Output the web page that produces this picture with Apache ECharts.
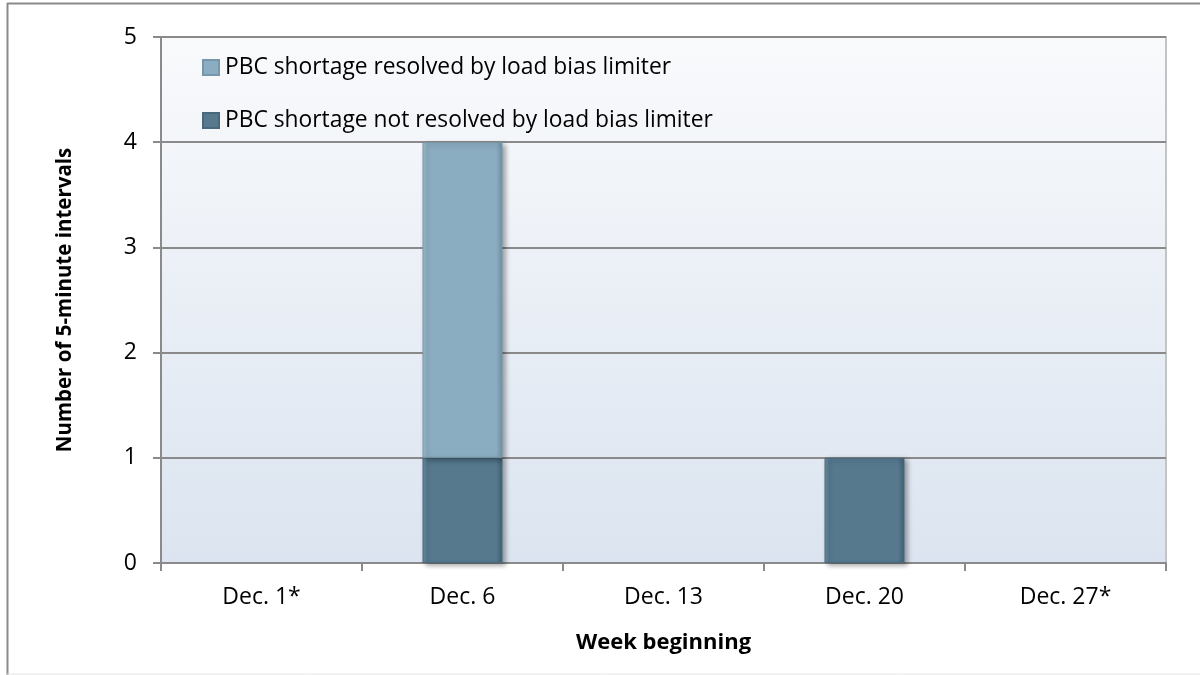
<!DOCTYPE html>
<html>
<head>
<meta charset="utf-8">
<script src="https://cdn.jsdelivr.net/npm/echarts@6/dist/echarts.min.js"></script>
<style>
  html, body { margin: 0; padding: 0; background: #fff; }
  #chart { width: 1200px; height: 675px; }
</style>
</head>
<body>
<div id="chart"></div>
<script>
const weeks = ["Dec. 1*", "Dec. 6", "Dec. 13", "Dec. 20", "Dec. 27*"];
const notResolved = [0, 1, 0, 1, 0];
const resolved = [0, 3, 0, 0, 0];
const yTicks = [0, 1, 2, 3, 4, 5];

const FONT = "Open Sans";

// empty weeks get no bar at all (otherwise the shadow shows up on the axis)
const noZero = (arr) => arr.map((v) => (v === 0 ? "-" : v));

// horizontal gradient so the bars look a bit bevelled like the original
const bevel = (edge, mid, dark) =>
  new echarts.graphic.LinearGradient(0, 0, 1, 0, [
    { offset: 0, color: edge },
    { offset: 0.06, color: mid },
    { offset: 0.92, color: mid },
    { offset: 1, color: dark },
  ]);

const chart = echarts.init(document.getElementById("chart"));

const option = {
  animation: false,
  textStyle: { fontFamily: FONT },
  graphic: [
    // outer frame: left and top lines gray, bottom faint
    { type: "line", shape: { x1: 7.5, y1: 3, x2: 7.5, y2: 675 }, style: { stroke: "#8a8a8a", lineWidth: 2 } },
    { type: "line", shape: { x1: 7, y1: 3.5, x2: 1200, y2: 3.5 }, style: { stroke: "#8a8a8a", lineWidth: 2 } },
    { type: "line", shape: { x1: 7, y1: 674, x2: 1200, y2: 674 }, style: { stroke: "#e6e6e6", lineWidth: 1 } },
  ],
  legend: {
    orient: "vertical",
    left: 197,
    top: 51,
    itemWidth: 16,
    itemHeight: 15,
    itemGap: 30,
    icon: "rect",
    data: ["PBC shortage resolved by load bias limiter", "PBC shortage not resolved by load bias limiter"],
    textStyle: { fontSize: 22.8, color: "#000", fontFamily: FONT, padding: [0, 0, 0, 1] },
  },
  grid: {
    left: 161,
    top: 37,
    width: 1005,
    height: 526,
    show: true,
    borderColor: "#c4c4c4",
    borderWidth: 2,
    backgroundColor: new echarts.graphic.LinearGradient(0, 0, 0, 1, [
      { offset: 0, color: "#f9fafc" },
      { offset: 1, color: "#dbe4f0" },
    ]),
  },
  xAxis: {
    type: "category",
    data: weeks,
    name: "Week beginning",
    nameLocation: "middle",
    nameGap: 69,
    nameTextStyle: { fontSize: 22, fontWeight: "bold", color: "#000", fontFamily: FONT },
    axisLine: { lineStyle: { color: "#8a8a8a", width: 2 } },
    axisTick: { show: true, length: 8, lineStyle: { color: "#8a8a8a", width: 2 } },
    axisLabel: { fontSize: 23, color: "#000", margin: 23 },
  },
  yAxis: {
    type: "value",
    min: yTicks[0],
    max: yTicks[yTicks.length - 1],
    interval: 1,
    name: "Number of 5-minute intervals",
    nameLocation: "middle",
    nameGap: 85,
    nameTextStyle: { fontSize: 20.5, fontWeight: "bold", color: "#000", fontFamily: FONT },
    axisLine: { show: true, lineStyle: { color: "#8a8a8a", width: 2 } },
    axisTick: { show: true, length: 8, lineStyle: { color: "#8a8a8a", width: 2 } },
    axisLabel: { fontSize: 23, color: "#000", margin: 24 },
    splitLine: { show: true, lineStyle: { color: "#8a8a8a", width: 2 } },
  },
  series: [
    {
      name: "PBC shortage not resolved by load bias limiter",
      type: "bar",
      stack: "total",
      barWidth: 80,
      data: noZero(notResolved),
      itemStyle: {
        color: bevel("#6f93a8", "#56798e", "#3f5f72"),
        borderColor: "#48697c",
        borderWidth: 1,
        shadowColor: "rgba(0,0,0,0.35)",
        shadowBlur: 5,
        shadowOffsetX: 3,
        shadowOffsetY: 2,
      },
    },
    {
      name: "PBC shortage resolved by load bias limiter",
      type: "bar",
      stack: "total",
      barWidth: 80,
      data: noZero(resolved),
      itemStyle: {
        color: bevel("#a3c1d2", "#8badc1", "#6f8fa3"),
        borderColor: "#7896a9",
        borderWidth: 1,
        shadowColor: "rgba(0,0,0,0.35)",
        shadowBlur: 5,
        shadowOffsetX: 3,
        shadowOffsetY: 2,
      },
    },
  ],
};

chart.setOption(option);
</script>
</body>
</html>
